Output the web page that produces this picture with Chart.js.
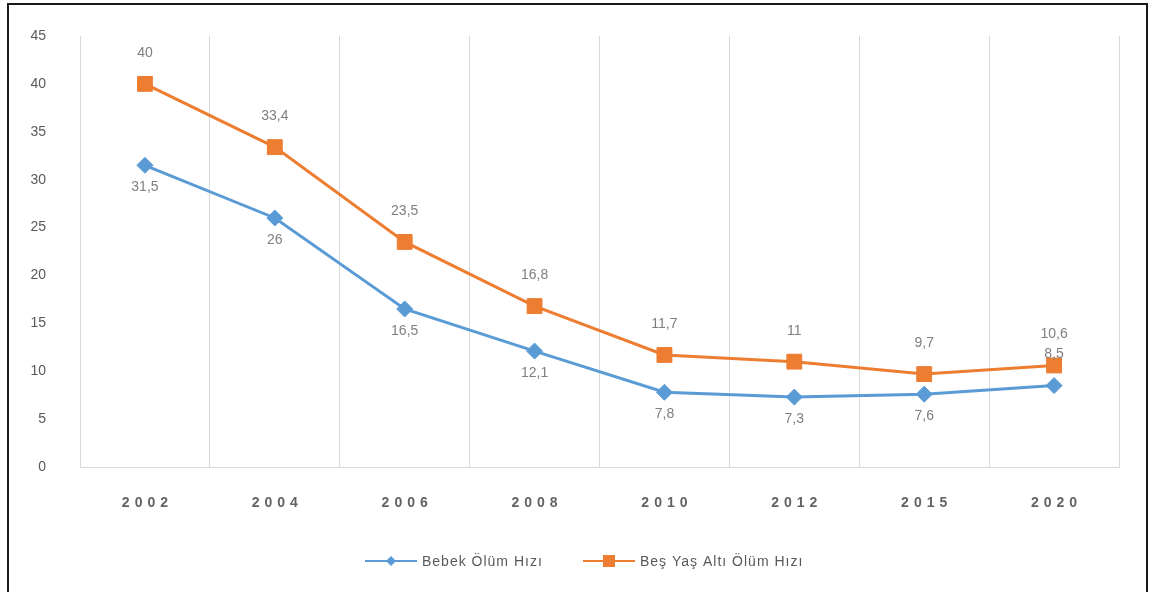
<!DOCTYPE html>
<html lang="tr">
<head>
<meta charset="utf-8">
<script src="https://cdn.jsdelivr.net/npm/chart.js@4/dist/chart.umd.min.js"></script>
<style>
    html, body { margin: 0; padding: 0; background: #ffffff; }
    #kap { position: relative; width: 1153px; height: 592px; overflow: hidden; }
    #cerceve { position: absolute; left: 7px; top: 3px; width: 1137px; height: 700px; border: 2px solid #1a1a1a; pointer-events: none; }
    canvas { position: absolute; left: 0; top: 0; }
</style>
</head>
<body>
<div id="kap">
    <canvas id="grafik"></canvas>
    <div id="cerceve"></div>
</div>
<script>
const yillar = ["2002", "2004", "2006", "2008", "2010", "2012", "2015", "2020"];
const bebekOlum = [31.5, 26, 16.5, 12.1, 7.8, 7.3, 7.6, 8.5];
const besYasAltiOlum = [40, 33.4, 23.5, 16.8, 11.7, 11, 9.7, 10.6];
const yEtiketleri = [0, 5, 10, 15, 20, 25, 30, 35, 40, 45];

const mavi = "#5B9BD5";
const turuncu = "#ED7D31";
const griYazi = "#595959";
const yaziTipi = "'Liberation Sans', Arial, sans-serif";

function sayiYaz(v) {
    return String(v).replace(".", ",");
}

// veri etiketleri, x ekseni yazilari ve alt aciklama
const etiketEklentisi = {
    id: "etiketler",
    afterDatasetsDraw(chart) {
        const ctx = chart.ctx;
        ctx.save();
        ctx.font = "14px " + yaziTipi;
        ctx.fillStyle = "#7f7f7f";
        ctx.textAlign = "center";
        ctx.textBaseline = "middle";
        chart.data.datasets.forEach((ds, i) => {
            const meta = chart.getDatasetMeta(i);
            meta.data.forEach((nokta, j) => {
                const konum = ds.etiketKonumu[j];
                const dy = konum === "ust" ? -31 : 22;
                ctx.fillText(sayiYaz(ds.data[j]), nokta.x, nokta.y + dy);
            });
        });
        ctx.restore();
    },
    afterDraw(chart) {
        const ctx = chart.ctx;
        const x = chart.scales.x;
        ctx.save();
        ctx.font = "bold 14px " + yaziTipi;
        ctx.fillStyle = "#636363";
        ctx.textBaseline = "middle";
        ctx.textAlign = "left";
        ctx.letterSpacing = "5px";
        yillar.forEach((yil, i) => {
            const g = ctx.measureText(yil).width - 5;
            ctx.fillText(yil, x.getPixelForValue(i) - g / 2, 503);
        });

        // aciklama
        ctx.letterSpacing = "1px";
        ctx.font = "14px " + yaziTipi;
        const ly = 561;
        const ogeler = [
            { x0: 365, renk: mavi, sekil: "elmas", yazi: "Bebek Ölüm Hızı" },
            { x0: 583, renk: turuncu, sekil: "kare", yazi: "Beş Yaş Altı Ölüm Hızı" }
        ];
        ogeler.forEach((o) => {
            ctx.strokeStyle = o.renk;
            ctx.lineWidth = 2;
            ctx.beginPath();
            ctx.moveTo(o.x0, ly);
            ctx.lineTo(o.x0 + 52, ly);
            ctx.stroke();
            ctx.fillStyle = o.renk;
            const mx = o.x0 + 26;
            ctx.beginPath();
            if (o.sekil === "elmas") {
                ctx.moveTo(mx, ly - 5);
                ctx.lineTo(mx + 5, ly);
                ctx.lineTo(mx, ly + 5);
                ctx.lineTo(mx - 5, ly);
                ctx.closePath();
            } else {
                ctx.rect(mx - 6, ly - 6, 12, 12);
            }
            ctx.fill();
            ctx.fillStyle = griYazi;
            ctx.fillText(o.yazi, o.x0 + 57, ly + 1);
        });
        ctx.restore();
    }
};

const ctxGrafik = document.getElementById("grafik");
ctxGrafik.width = 1153;
ctxGrafik.height = 592;

new Chart(ctxGrafik, {
    type: "line",
    data: {
        labels: yillar,
        datasets: [
            {
                label: "Bebek Ölüm Hızı",
                data: bebekOlum,
                borderColor: mavi,
                backgroundColor: mavi,
                borderWidth: 3,
                pointStyle: "rectRot",
                pointRadius: 8,
                pointHoverRadius: 8,
                pointBorderWidth: 1,
                tension: 0,
                etiketKonumu: ["alt", "alt", "alt", "alt", "alt", "alt", "alt", "ust"]
            },
            {
                label: "Beş Yaş Altı Ölüm Hızı",
                data: besYasAltiOlum,
                borderColor: turuncu,
                backgroundColor: turuncu,
                borderWidth: 3,
                pointStyle: "rect",
                pointRadius: 10.5,
                pointHoverRadius: 10.5,
                pointBorderWidth: 1,
                tension: 0,
                etiketKonumu: ["ust", "ust", "ust", "ust", "ust", "ust", "ust", "ust"]
            }
        ]
    },
    options: {
        responsive: false,
        animation: false,
        layout: {
            padding: { top: 36, right: 34, left: 0, bottom: 0 }
        },
        plugins: {
            legend: { display: false },
            tooltip: { enabled: false }
        },
        scales: {
            x: {
                offset: true,
                grid: {
                    offset: true,
                    color: "#d9d9d9",
                    lineWidth: 1,
                    drawTicks: false
                },
                border: { color: "#d9d9d9", width: 1 },
                ticks: { display: false },
                afterFit: (s) => { s.height = 125; }
            },
            y: {
                min: 0,
                max: 45,
                afterBuildTicks: (s) => { s.ticks = yEtiketleri.map((v) => ({ value: v })); },
                grid: { display: false },
                border: { display: false },
                ticks: {
                    color: griYazi,
                    padding: 26,
                    font: { size: 14, family: yaziTipi }
                },
                afterFit: (s) => { s.width = 80; }
            }
        }
    },
    plugins: [etiketEklentisi]
});
</script>
</body>
</html>
